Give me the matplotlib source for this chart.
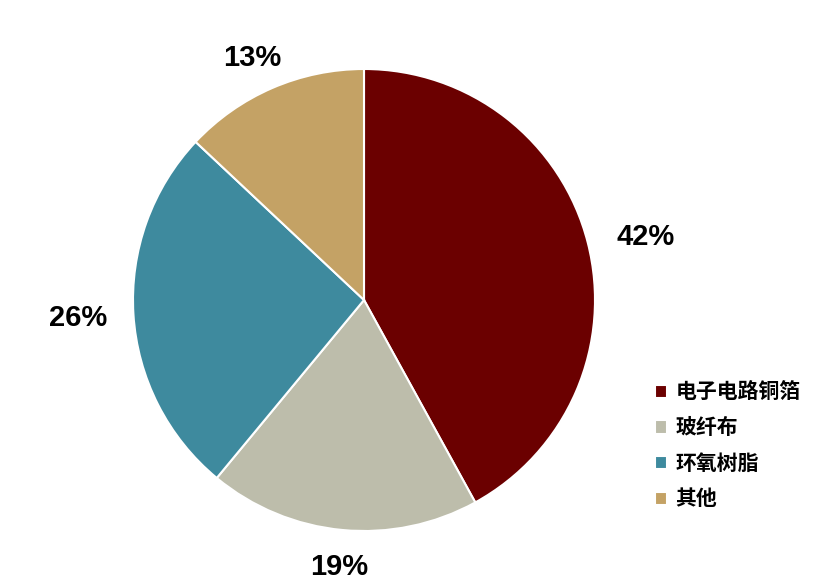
import matplotlib.pyplot as plt
import numpy as np

plt.rcParams['font.family'] = ['Noto Sans CJK SC', 'DejaVu Sans']

labels = ['电子电路铜箔', '玻纤布', '环氧树脂', '其他']
shares = [42, 19, 26, 13]
colors = ['#6B0000', '#BDBDAB', '#3E8A9E', '#C4A265']
# how far out each percentage sits (in radii) and a small angle nudge
label_dist = [1.25, 1.16, 1.24, 1.155]
label_nudge = [-1.8, 0, 0, 1.4]

W, H = 819, 588
fig = plt.figure(figsize=(W / 100, H / 100), dpi=100)
cx, cy, r = 364, 300, 231
ax = fig.add_axes([(cx - r) / W, (H - cy - r) / H, 2 * r / W, 2 * r / H])

wedges, _ = ax.pie(shares, colors=colors, startangle=90, counterclock=False,
                   wedgeprops=dict(edgecolor='white', linewidth=1.5))
ax.set_xlim(-1, 1)
ax.set_ylim(-1, 1)
ax.set_aspect('auto')

for w, s, d, n in zip(wedges, shares, label_dist, label_nudge):
    ang = np.deg2rad((w.theta1 + w.theta2) / 2 + n)
    ax.text(d * np.cos(ang), d * np.sin(ang), f'{s}%', ha='center', va='center',
            fontsize=21, fontweight='bold', family=['Liberation Sans', 'DejaVu Sans'],
            clip_on=False)

fig.legend(wedges, labels, loc='upper left', bbox_to_anchor=(636 / W, 1 - 363 / H),
           frameon=False, handlelength=0.6, handleheight=0.6, handletextpad=0.4,
           labelspacing=0.7, prop=dict(family='Noto Sans CJK SC', size=15, weight='bold'))

fig.savefig('out.png', dpi=100)
